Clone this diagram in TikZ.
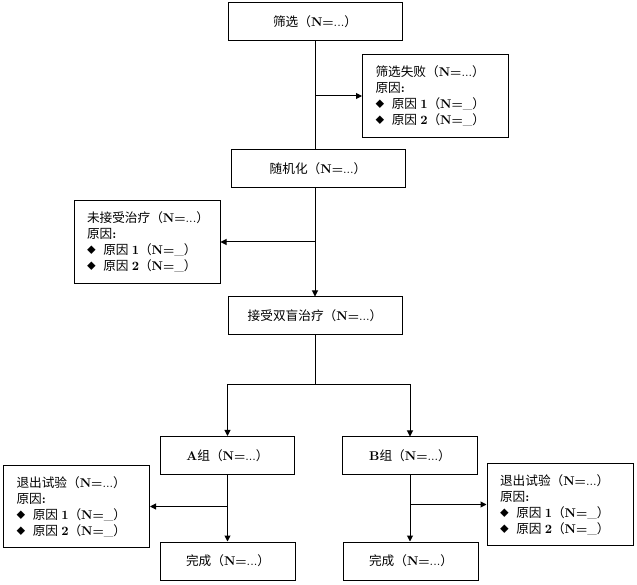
\documentclass[tikz,border=0pt]{standalone}
\usepackage{fontspec}
\newfontfamily\cjk{Noto Sans CJK SC}
\usetikzlibrary{arrows.meta}
\newcommand\zh[1]{{\cjk #1}}
\newcommand\nn{\textbf{N=}}
\newcommand\reasonline[1]{\raisebox{0.5pt}{\cjk\fontsize{6.5}{6.5}\selectfont ◆}\hspace{0.6em}\zh{原因}\hspace{0.25em}\textbf{#1}\zh{（}\nn\_\zh{）}}
\begin{document}
\begin{tikzpicture}[x=0.75pt,y=-0.75pt,
  every node/.style={font=\fontsize{9.5}{12}\selectfont},
  box/.style={draw,line width=0.75pt,minimum height=28.5pt,inner sep=0pt},
  wbox/.style={box,minimum width=130.5pt},
  gbox/.style={box,minimum width=101pt},
  listbox/.style={draw,line width=0.75pt,minimum width=109.5pt,minimum height=62pt,
    inner xsep=9.75pt,inner ysep=0pt,text width=90pt,align=left},
  conn/.style={line width=0.75pt},
  arr/.style={conn,-{Triangle[length=4.5pt,width=4.5pt]}}]
\useasboundingbox (0,0) rectangle (637,585);
\node[wbox] (screen) at (315,22) {\zh{筛选（}\nn...\zh{）}};
\node[listbox] (fail) at (435.5,96) {\zh{筛选失败（}\nn...\zh{）}\\\zh{原因}\textbf{:}\\\reasonline{1}\\\reasonline{2}};
\node[wbox] (rand) at (318,169) {\zh{随机化（}\nn...\zh{）}};
\node[listbox] (notreat) at (147,242) {\zh{未接受治疗（}\nn...\zh{）}\\\zh{原因}\textbf{:}\\\reasonline{1}\\\reasonline{2}};
\node[wbox] (dbl) at (315,316) {\zh{接受双盲治疗（}\nn...\zh{）}};
\node[gbox] (A) at (227.5,455.5) {\textbf{A}\zh{组（}\nn...\zh{）}};
\node[gbox] (B) at (410,456) {\textbf{B}\zh{组（}\nn...\zh{）}};
\node[listbox] (exitL) at (76.5,506.5) {\zh{退出试验（}\nn...\zh{）}\\\zh{原因}\textbf{:}\\\reasonline{1}\\\reasonline{2}};
\node[listbox] (exitR) at (560,504.5) {\zh{退出试验（}\nn...\zh{）}\\\zh{原因}\textbf{:}\\\reasonline{1}\\\reasonline{2}};
\node[gbox] (doneL) at (228,561) {\zh{完成（}\nn...\zh{）}};
\node[gbox] (doneR) at (411,561) {\zh{完成（}\nn...\zh{）}};
\coordinate (s1) at (screen.south |- fail.west);
\coordinate (s2) at (screen.south |- notreat.east);
\coordinate (s3) at (315,385);
\coordinate (s4) at (A.south |- exitL.east);
\coordinate (s5) at (B.south |- exitR.west);
\draw[conn] (screen.south) -- (screen.south |- rand.north);
\draw[arr] (s1) -- (fail.west);
\draw[arr] (screen.south |- rand.south) -- (screen.south |- dbl.north);
\draw[arr] (s2) -- (notreat.east);
\draw[conn] (dbl.south) -- (s3);
\draw[arr] (s3) -| (A.north);
\draw[arr] (s3) -| (B.north);
\draw[arr] (A.south) -- (A.south |- doneL.north);
\draw[arr] (s4) -- (exitL.east);
\draw[arr] (B.south) -- (B.south |- doneR.north);
\draw[arr] (s5) -- (exitR.west);
\end{tikzpicture}
\end{document}
